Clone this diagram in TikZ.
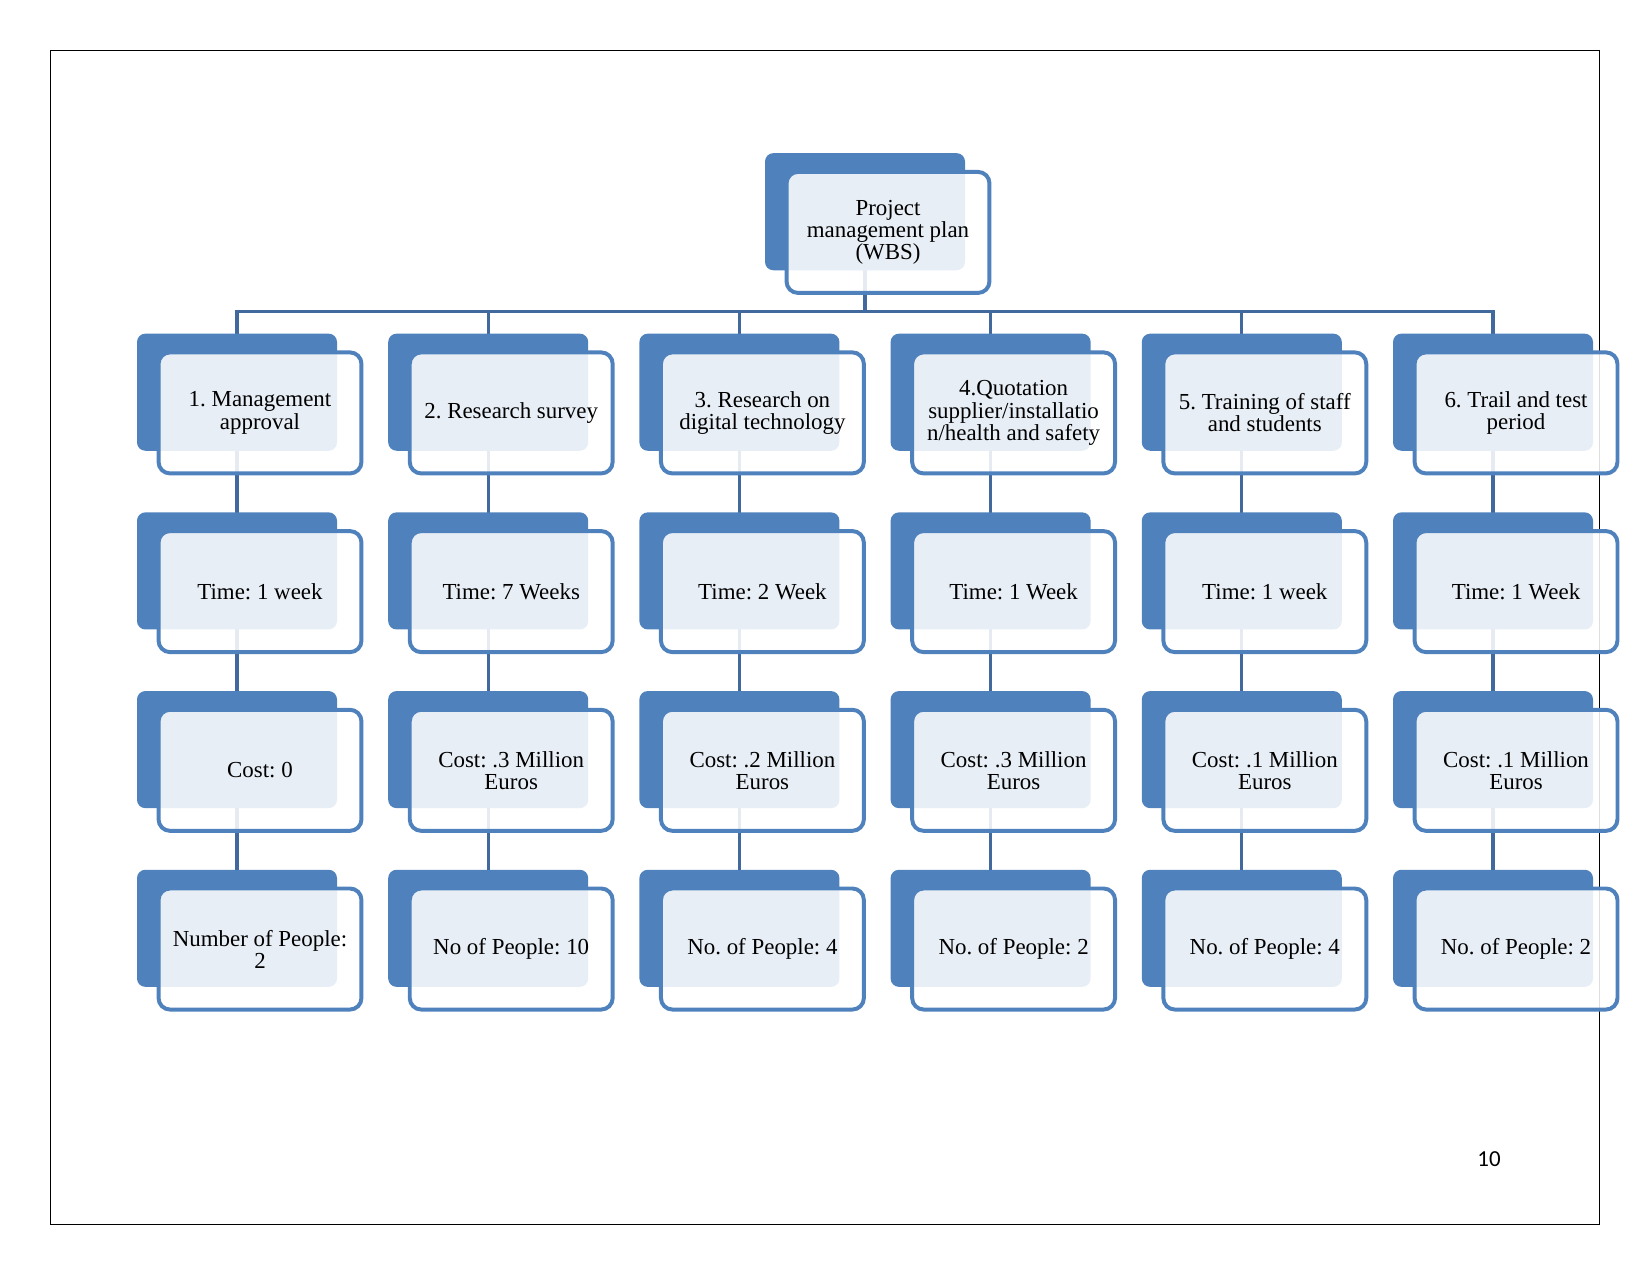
\documentclass[tikz,border=0pt]{standalone}
\usepackage{fontspec}
\setmainfont{Liberation Serif}
\newfontfamily\pagefont{Carlito}
\usetikzlibrary{calc,backgrounds}
\definecolor{boxblue}{HTML}{4F81BD}
\definecolor{linkblue}{HTML}{41699E}
\frenchspacing

\begin{document}
\begin{tikzpicture}[
    x=0.48pt, y=-0.48pt,
    back/.style={fill=boxblue, rounded corners=4pt, minimum width=96pt, minimum height=56.2pt, inner sep=0pt},
    front/.style={draw=boxblue, line width=1.9pt, fill=white, fill opacity=0.87, text opacity=1, rounded corners=5.5pt,
        minimum width=97.4pt, minimum height=58.1pt, inner sep=0pt, align=center, font=\fontsize{11}{10.6}\selectfont},
    link/.style={draw=linkblue, line width=1.5pt},
]
\useasboundingbox (0,0) rectangle (1651,1275);
\draw[line width=0.7pt] (50.5,50.5) rectangle (1599.5,1224.5);
\node[font=\pagefont\fontsize{11}{13}\selectfont] (pagenum) at (1489,1159) {10};

% top of the breakdown
\node[back] (root) at (865,211.7) {};
\node[front] (rootf) at ($(root)+(23,20.7)$) {Project\\management plan\\(WBS)};

% one column per work package
\foreach \c/\x/\ta/\tb/\tc/\td in {
    1/237/{1. Management\\approval}/{Time: 1 week}/{Cost: 0}/{Number of People:\\2},
    2/488.2/{2. Research survey}/{Time: 7 Weeks}/{Cost: .3 Million\\Euros}/{No of People: 10},
    3/739.4/{3. Research on\\digital technology}/{Time: 2 Week}/{Cost: .2 Million\\Euros}/{No. of People: 4},
    4/990.6/{4.Quotation\\supplier/installatio\\n/health and safety}/{Time: 1 Week}/{Cost: .3 Million\\Euros}/{No. of People: 2},
    5/1241.8/{5. Training of staff\\and students}/{Time: 1 week}/{Cost: .1 Million\\Euros}/{No. of People: 4},
    6/1493/{6. Trail and test\\period}/{Time: 1 Week}/{Cost: .1 Million\\Euros}/{No. of People: 2}} {
    \node[back] (b1-\c) at (\x,392.2) {};
    \node[front] (f1-\c) at ($(b1-\c)+(23,20.7)$) {\ta};
    \node[back] (b2-\c) at (\x,570.9) {};
    \node[front] (f2-\c) at ($(b2-\c)+(23,20.7)$) {\tb};
    \node[back] (b3-\c) at (\x,749.6) {};
    \node[front] (f3-\c) at ($(b3-\c)+(23,20.7)$) {\tc};
    \node[back] (b4-\c) at (\x,928.3) {};
    \node[front] (f4-\c) at ($(b4-\c)+(23,20.7)$) {\td};
}

% connectors
\begin{scope}[on background layer]
\coordinate (bus) at (0,311.7);
\foreach \c in {1,...,6} {
    \draw[link] (root.center) |- (bus -| b1-\c) -- (b1-\c.center);
    \draw[link] (b1-\c.center) -- (b2-\c.center) -- (b3-\c.center) -- (b4-\c.center);
}
\end{scope}
\end{tikzpicture}
\end{document}
